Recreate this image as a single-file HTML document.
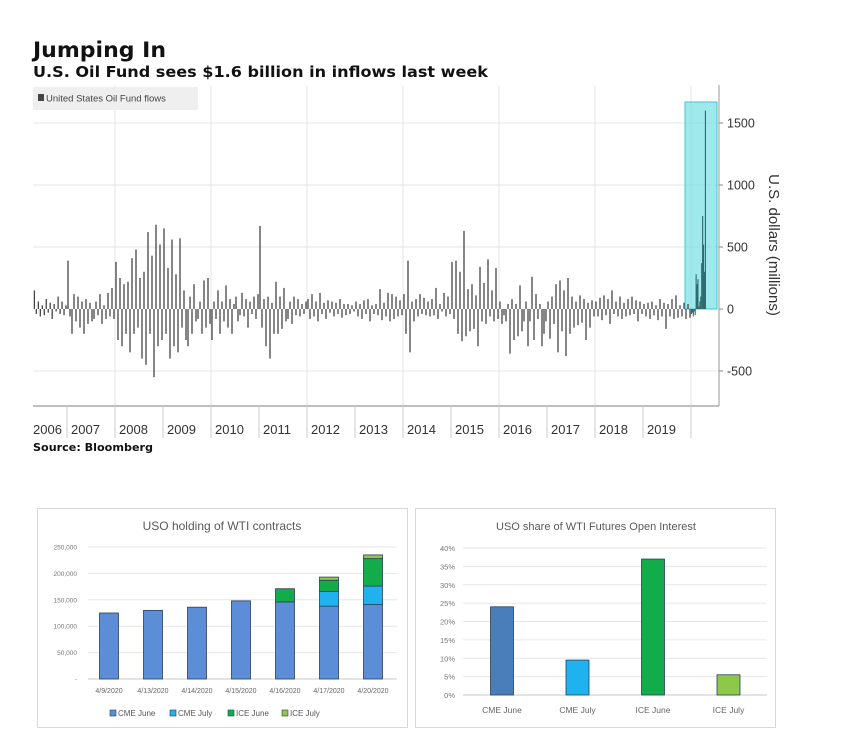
<!DOCTYPE html>
<html><head><meta charset="utf-8">
<style>
html,body{margin:0;padding:0;background:#fff;width:848px;height:735px;overflow:hidden;font-family:"Liberation Sans","DejaVu Sans",sans-serif;}
svg{position:absolute;left:0;top:0}
</style></head>
<body>
<svg width="848" height="735" viewBox="0 0 848 735">
  <text x="33" y="57" font-size="21" font-weight="bold" fill="#111" font-family="DejaVu Sans, sans-serif" textLength="133" lengthAdjust="spacingAndGlyphs">Jumping In</text>
  <text x="33" y="77" font-size="15" font-weight="bold" fill="#111" font-family="DejaVu Sans, sans-serif" textLength="455" lengthAdjust="spacingAndGlyphs">U.S. Oil Fund sees $1.6 billion in inflows last week</text>
  <g id="top"></g>
  <text x="33" y="451" font-size="10.5" font-weight="bold" fill="#111" font-family="DejaVu Sans, sans-serif" textLength="120" lengthAdjust="spacingAndGlyphs">Source: Bloomberg</text>
  <g id="bl"></g>
  <g id="br"></g>
</svg>
<script>
// ---------- Top chart data (biweekly USO flows, $M) ----------
const flowYears = [2006,2007,2008,2009,2010,2011,2012,2013,2014,2015,2016,2017,2018,2019];
const flows2006 = [150,-40,60,-60,30,-50,80,-30,50,-80,40,-20,100,-40,60,-50,30];
const flows2007 = [390,-60,-200,120,-100,100,-150,60,-200,80,-120,50,-100,-80,60,-50,120,-120,30,-80,130,-60,170,-80];
const flows2008 = [380,-250,250,-300,200,-200,220,-350,410,-200,480,-150,250,-400,300,-450,620,-200,430,-550,680,-300,520,-250];
const flows2009 = [650,-200,330,-400,560,-300,280,-350,570,-150,150,-250,-300,100,-200,200,-100,-80,60,-200,230,-150,250,-120];
const flows2010 = [-250,60,-80,150,-200,60,-100,190,-150,80,-200,40,100,-100,-50,130,-60,80,-150,60,-40,100,-80,120];
const flows2011 = [670,-150,80,-300,100,-400,50,-200,220,-200,100,-160,170,-100,-80,60,-120,100,-50,80,-60,40,-40,60];
const flows2012 = [80,-80,120,-60,60,-100,130,-40,50,-80,70,-30,60,-60,50,-40,80,-70,40,-50,40,-40,30,-20];
const flows2013 = [60,-60,40,-80,70,-40,80,-100,30,-40,40,-50,160,-90,50,-60,130,-100,120,-80,100,-60,70,-50];
const flows2014 = [120,-200,390,-350,60,-100,80,-60,120,-40,90,-50,60,-60,80,-50,170,-80,40,-20,130,-60,100,-40];
const flows2015 = [380,-80,390,-200,300,-260,630,-220,160,-180,200,-160,110,-300,340,-100,210,-120,400,-60,150,-100,330,-80];
const flows2016 = [60,-120,-50,-100,40,-360,80,-250,40,-220,190,-180,-100,60,-300,-100,260,-250,120,-80,40,-300,-200,-100];
const flows2017 = [60,-240,100,-120,200,-350,230,-180,150,-380,250,-200,100,-150,60,-130,110,-110,80,-250,50,-150,70,-60];
const flows2018 = [60,-60,90,-90,110,-50,80,-120,150,-40,60,-60,100,-80,50,-60,80,-50,100,-40,70,-100,60,-40];
const flows2019 = [40,-60,50,-80,60,-50,30,-90,80,-60,50,-160,40,-60,80,-80,110,-70,30,-60,50,-80,40,-70];
const flows2020 = [-40,-30,-60,-20,-50,280,200,240,20,60,100,370,750,520,300,1600];
const flowSeries = [flows2006,flows2007,flows2008,flows2009,flows2010,flows2011,flows2012,flows2013,flows2014,flows2015,flows2016,flows2017,flows2018,flows2019];
const yTicks = [1500,1000,500,0,-500];
const yearLabels = ["2006","2007","2008","2009","2010","2011","2012","2013","2014","2015","2016","2017","2018","2019"];

// ---------- Bottom-left data ----------
const holdDates = ["4/9/2020","4/13/2020","4/14/2020","4/15/2020","4/16/2020","4/17/2020","4/20/2020"];
const cmeJune = [125000,130000,136000,148000,146000,138000,141000];
const cmeJuly = [0,0,0,0,0,28000,35000];
const iceJune = [0,0,0,0,25000,21000,52000];
const iceJuly = [0,0,0,0,0,6000,7000];
const holdTicks = [250000,200000,150000,100000,50000,0];
const holdTickLabels = ["250,000","200,000","150,000","100,000","50,000","-"];

// ---------- Bottom-right data ----------
const shareCats = ["CME June","CME July","ICE June","ICE July"];
const shareVals = [24,9.5,37,5.5];
const shareTicks = [40,35,30,25,20,15,10,5,0];

const NS = "http://www.w3.org/2000/svg";
function mk(parent, tag, attrs, text){
  const e = document.createElementNS(NS, tag);
  for (const k in attrs) e.setAttribute(k, attrs[k]);
  if (text !== undefined) e.textContent = text;
  parent.appendChild(e);
  return e;
}

// ===== Top chart =====
(function(){
  const g = document.getElementById('top');
  const X = yr => 67 + (yr - 2007) * 48;
  const Y = v => 309 - v * (62 / 500);
  const left = 33, right = 719, top = 85, bottom = 406;
  yTicks.forEach(t => {
    if (t !== 0) {
      const l = mk(g,'line',{x1:left,x2:right,y1:Y(t),y2:Y(t),stroke:'#e4e4e4','stroke-width':1});
      
      
    }
    const tk = mk(g,'line',{x1:right,x2:right+4,y1:Y(t),y2:Y(t),stroke:'#888','stroke-width':1});
    
    
    const tl = mk(g,'text',{x:right+8,y:Y(t)+4.5,'font-size':12.5,fill:'#333'}, String(t));
    
    
  });
  for (let yr = 2008; yr <= 2020; yr += 2) {
    const l = mk(g,'line',{x1:X(yr),x2:X(yr),y1:top,y2:bottom,stroke:'#e4e4e4','stroke-width':1});
    
    
  }
  const lg = mk(g,'rect',{x:33,y:87,width:165,height:23,fill:'#efefef'});
  
  
  const ls = mk(g,'rect',{x:38,y:94,width:6,height:7,fill:'#444'});
  
  
  const lt = mk(g,'text',{x:46,y:101.5,'font-size':9.5,fill:'#444'},'United States Oil Fund flows');
  
  
  const hb = mk(g,'rect',{x:685,y:102,width:32,height:Y(0)-102,fill:'#7fe0e6','fill-opacity':0.75,stroke:'#3cc7d0','stroke-width':1});
  
  
  flowSeries.forEach((arr, yi) => {
    const yr = flowYears[yi];
    const start = yi === 0 ? 2006.3 : yr;
    const span = (yr + 1) - start;
    arr.forEach((v, i) => {
      const x = X(start + span * (i + 0.5) / arr.length);
      const b = mk(g,'line',{x1:x,x2:x,y1:Y(0),y2:Y(v),stroke:'#444','stroke-width':1.3});
      
      
    });
  });
  flows2020.forEach((v, i) => {
    const x = X(2020 + 0.31 * (i + 0.5) / flows2020.length);
    const b = mk(g,'line',{x1:x,x2:x,y1:Y(0),y2:Y(v),stroke:'#2f6a6e','stroke-width':1.1});
    
    
  });
  const ax = mk(g,'line',{x1:left,x2:right,y1:bottom,y2:bottom,stroke:'#999','stroke-width':1.2});
  
  
  const ay = mk(g,'line',{x1:right,x2:right,y1:top,y2:bottom,stroke:'#999','stroke-width':1});
  
  
  for (let yr = 2007; yr <= 2020; yr++) {
    const s = mk(g,'line',{x1:X(yr),x2:X(yr),y1:bottom,y2:438,stroke:'#ccc','stroke-width':1});
    
    
  }
  yearLabels.forEach((lab, i) => {
    const yr = 2006 + i;
    const x = i === 0 ? 33 : X(yr) + 4;
    const t = mk(g,'text',{x:x,y:434,'font-size':13,fill:'#333'}, lab);
    
    
  });
  const yt = mk(g,'text',{x:0,y:0,'font-size':15,fill:'#333','text-anchor':'middle',transform:'translate(769,245) rotate(90)'},'U.S. dollars (millions)');
  
  
})();

// ===== Bottom-left chart =====
(function(){
  const g = document.getElementById('bl');
  const frame = mk(g,'rect',{x:37.5,y:508.5,width:370,height:219,fill:'#fff',stroke:'#d8d8d8'});
  
  
  const t = mk(g,'text',{x:222,y:530,'font-size':12,fill:'#595959','text-anchor':'middle'},'USO holding of WTI contracts');
  
  
  const Y = v => 679 - v * (132 / 250000);
  const X = i => 109 + i * 44;
  holdTicks.forEach((tv, i) => {
    const l = mk(g,'line',{x1:88,x2:397,y1:Y(tv),y2:Y(tv),stroke: tv===0?'#c8c8c8':'#e6e6e6'});
    
    
    const tl = mk(g,'text',{x:77,y:Y(tv)+2.5,'font-size':6.5,fill:'#777','text-anchor':'end'}, holdTickLabels[i]);
    
    
  });
  const series = [[cmeJune,'#5b8ed6'],[cmeJuly,'#1fb2ee'],[iceJune,'#12ac4a'],[iceJuly,'#8dc84a']];
  holdDates.forEach((d, i) => {
    let base = 0;
    series.forEach(([arr, col]) => {
      const v = arr[i];
      if (v > 0) {
        const r = mk(g,'rect',{x:X(i)-9.5,y:Y(base+v),width:19,height:Y(base)-Y(base+v),fill:col,stroke:'#2a3f5a','stroke-width':0.8});
        
        
      }
      base += v;
    });
    const dl = mk(g,'text',{x:X(i),y:693,'font-size':7,fill:'#666','text-anchor':'middle'}, d);
    
    
  });
  const legend = [['CME June','#5b8ed6',110],['CME July','#1fb2ee',170],['ICE June','#12ac4a',228],['ICE July','#8dc84a',282]];
  legend.forEach(([lab,col,x]) => {
    const s = mk(g,'rect',{x:x,y:710,width:6,height:6,fill:col,stroke:'#2a3f5a','stroke-width':0.6});
    
    
    const tl = mk(g,'text',{x:x+8,y:716,'font-size':8,fill:'#555'}, lab);
    
    
  });
})();

// ===== Bottom-right chart =====
(function(){
  const g = document.getElementById('br');
  const frame = mk(g,'rect',{x:415.5,y:508.5,width:360,height:219,fill:'#fff',stroke:'#d8d8d8'});
  
  
  const t = mk(g,'text',{x:596,y:530,'font-size':11,fill:'#595959','text-anchor':'middle'},'USO share of WTI Futures Open Interest');
  
  
  const Y = v => 695 - v * (147 / 40);
  const X = i => 502 + i * 75.5;
  shareTicks.forEach(tv => {
    const l = mk(g,'line',{x1:463,x2:767,y1:Y(tv),y2:Y(tv),stroke: tv===0?'#c8c8c8':'#e6e6e6'});
    
    
    const tl = mk(g,'text',{x:455,y:Y(tv)+3,'font-size':7.5,fill:'#777','text-anchor':'end'}, tv + '%');
    
    
  });
  const cols = ['#4a7ebb','#1fb2ee','#12ac4a','#8dc84a'];
  shareCats.forEach((c, i) => {
    const r = mk(g,'rect',{x:X(i)-11.5,y:Y(shareVals[i]),width:23,height:Y(0)-Y(shareVals[i]),fill:cols[i],stroke:'#2a3f5a','stroke-width':0.8});
    
    
    const tl = mk(g,'text',{x:X(i),y:713,'font-size':8.5,fill:'#666','text-anchor':'middle'}, c);
    
    
  });
})();
</script>
</body></html>
